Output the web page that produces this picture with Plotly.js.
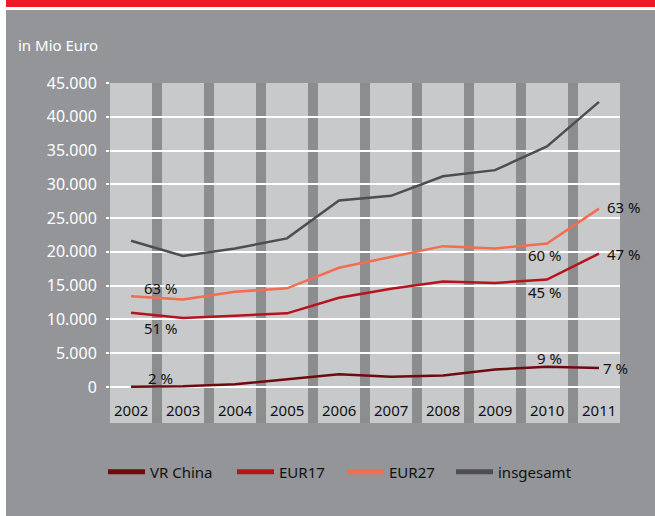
<!DOCTYPE html>
<html>
<head>
<meta charset="utf-8">
<script src="https://cdn.plot.ly/plotly-3.0.1.min.js"></script>
<style>
  html, body { margin: 0; padding: 0; background: #ffffff; }
  #band { position: absolute; left: 6px; top: 0; width: 649px; height: 7px; background: #ed1c24; }
  #panel { position: absolute; left: 6px; top: 10px; width: 649px; height: 506px; background: #939598; }
  #chart { position: absolute; left: 0; top: 0; width: 655px; height: 516px; }
</style>
</head>
<body>
<div id="band"></div>
<div id="panel"></div>
<div id="chart"></div>
<script>
// ---- data ----
const years = ["2002", "2003", "2004", "2005", "2006", "2007", "2008", "2009", "2010", "2011"];
const vrChina   = [50, 100, 400, 1150, 1900, 1500, 1700, 2600, 3000, 2800];
const eur17     = [11000, 10200, 10550, 10900, 13200, 14550, 15600, 15400, 15900, 19750];
const eur27     = [13450, 12970, 14100, 14600, 17650, 19300, 20850, 20500, 21250, 26400];
const insgesamt = [21650, 19400, 20500, 22000, 27600, 28300, 31200, 32100, 35600, 42200];

const seriesNames  = ["VR China", "EUR17", "EUR27", "insgesamt"];
const seriesColors = ["#6e0b10", "#b5141d", "#f26d52", "#4e4e50"];

const yTicks = [0, 5000, 10000, 15000, 20000, 25000, 30000, 35000, 40000, 45000];
const yTickText = ["0", "5.000", "10.000", "15.000", "20.000", "25.000", "30.000", "35.000", "40.000", "45.000"];

// percentage labels
const pctText  = ["63 %", "51 %", "2 %", "63 %", "47 %", "60 %", "45 %", "9 %", "7 %"];
const pctIndex = [0, 0, 0, 9, 9, 8, 8, 8, 9];
const pctValue = [14600, 8800, 1400, 26700, 19750, 19500, 14050, 4350, 2850];

// ---- build ----
const allSeries = [vrChina, eur17, eur27, insgesamt];
const traces = allSeries.map((vals, i) => ({
  type: "scatter",
  mode: "lines",
  x: years,
  y: vals,
  name: seriesNames[i],
  showlegend: false,
  line: { color: seriesColors[i], width: 2.5 },
  hoverinfo: "x+y+name"
}));
// legend-only entries (thicker sample line), one legend per entry
const legendIds = ["legend", "legend2", "legend3", "legend4"];
seriesNames.forEach((nm, i) => {
  traces.push({
    type: "scatter", mode: "lines",
    x: [null], y: [null],
    name: nm, showlegend: true, legend: legendIds[i],
    line: { color: seriesColors[i], width: 5 },
    hoverinfo: "skip"
  });
});

const yMin = -5330, yMax = 45000;
const halfCell = 0.404;
const plotLeft = 110, plotWidth = 510, plotTop = 83, plotHeight = 340;

// light column cells behind the grid
const shapes = years.map((yr, i) => ({
  type: "rect", layer: "below",
  xref: "x", yref: "paper",
  x0: i - halfCell, x1: i + halfCell, y0: 0, y1: 1,
  fillcolor: "#c8c9cb", line: { width: 0 }
}));

const xOffsets = [0.58, 0.58, 0.56, 0.12, 0.12, -0.03, -0.04, 0.05, 0.03];
const xAnchors = ["center", "center", "center", "left", "left", "center", "center", "center", "left"];
const annotations = pctText.map((t, k) => ({
  xref: "x", yref: "y",
  x: pctIndex[k] + xOffsets[k],
  y: pctValue[k],
  text: t, showarrow: false,
  xanchor: xAnchors[k], yanchor: "middle",
  font: { family: "Noto Sans", size: 15, color: "#111111" }
}));
// year labels inside the column cells
years.forEach((yr, i) => {
  annotations.push({
    xref: "x", yref: "y", x: i, y: -3380, text: yr, showarrow: false,
    xanchor: "center", yanchor: "middle",
    font: { family: "Noto Sans", size: 15, color: "#111111" }
  });
});
// unit title
annotations.push({
  xref: "paper", yref: "paper",
  x: (16 - plotLeft) / plotWidth, y: 1 + (plotTop - 45) / plotHeight,
  xanchor: "left", yanchor: "middle",
  text: "in Mio Euro", showarrow: false,
  font: { family: "Noto Sans", size: 15, color: "#ffffff" }
});

const layout = {
  width: 655, height: 516,
  margin: { l: plotLeft, r: 35, t: plotTop, b: 93 },
  paper_bgcolor: "rgba(0,0,0,0)",
  plot_bgcolor: "#8c8d8f",
  showlegend: true,
  xaxis: {
    type: "category",
    range: [-halfCell, years.length - 1 + halfCell],
    showgrid: false, zeroline: false, showline: false,
    showticklabels: false, ticks: "", fixedrange: true
  },
  yaxis: {
    range: [yMin, yMax],
    tickvals: yTicks, ticktext: yTickText,
    showgrid: true, gridcolor: "#ffffff", gridwidth: 2,
    zeroline: false, showline: false,
    ticks: "outside", ticklen: 3, tickcolor: "#ffffff", tickwidth: 2,
    tickfont: { family: "Noto Sans", size: 16, color: "#ffffff" },
    ticklabelstandoff: 6,
    fixedrange: true
  },
  shapes: shapes,
  annotations: annotations
};
// legend positions (left edge of each line sample, in px)
const legendPx = [103, 232, 342, 451];
legendIds.forEach((id, i) => {
  layout[id] = {
    orientation: "h",
    x: (legendPx[i] - plotLeft) / plotWidth, xanchor: "left",
    y: -(472 - (plotTop + plotHeight)) / plotHeight, yanchor: "middle",
    font: { family: "Noto Sans", size: 15, color: "#111111" },
    bgcolor: "rgba(0,0,0,0)", borderwidth: 0,
    itemwidth: 37
  };
});

Plotly.newPlot("chart", traces, layout, { displayModeBar: false, staticPlot: true });
</script>
</body>
</html>
